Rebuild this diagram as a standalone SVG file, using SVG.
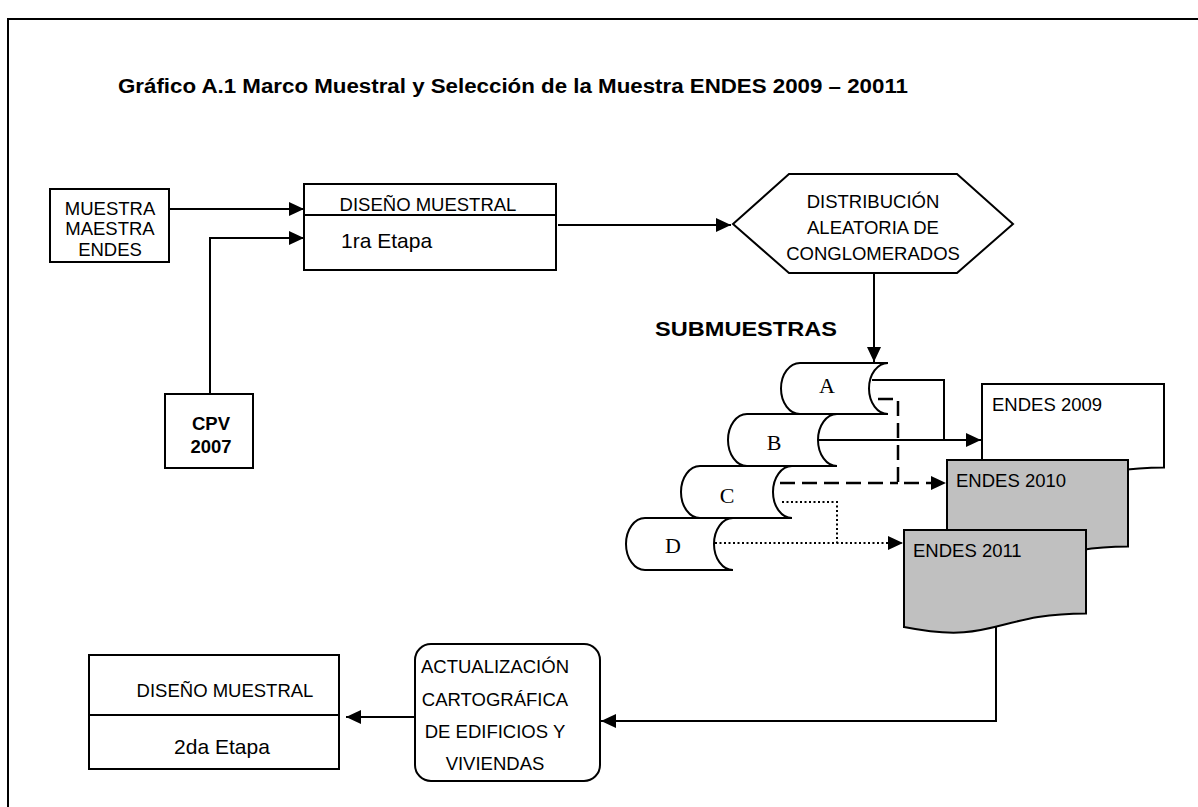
<svg xmlns="http://www.w3.org/2000/svg" width="1198" height="807" viewBox="0 0 1198 807">
<style>
.sh{fill:#fff;stroke:#000;stroke-width:2}
.gr{fill:#c0c0c0;stroke:#000;stroke-width:2}
.t{font-family:"Liberation Sans",Arial,sans-serif;font-size:18.5px;fill:#000}
.big{font-size:21px}
.c{text-anchor:middle}
.b{font-weight:bold}
.ser{font-family:"Liberation Serif","Times New Roman",serif;font-size:22px;text-anchor:middle;fill:#000}
.ln{fill:none;stroke:#000;stroke-width:2}
.da{stroke-dasharray:15 7;stroke-width:2.5}
.do{stroke-dasharray:2 2.5}
</style>
<defs>
<marker id="ah" markerUnits="userSpaceOnUse" markerWidth="16" markerHeight="14" refX="15" refY="7" orient="auto">
<path d="M0,0 L15,7 L0,14 Z" fill="#000"/>
</marker>
</defs>
<rect x="8" y="19" width="1210" height="810" fill="#fff" stroke="#000" stroke-width="2"/>
<text class="t b" x="118" y="93" style="font-size:20px" textLength="790" lengthAdjust="spacingAndGlyphs">Gráfico A.1 Marco Muestral y Selección de la Muestra ENDES 2009 – 20011</text>

<g id="muestra">
<rect class="sh" x="50" y="189" width="119" height="73"/>
<text class="t c" x="110" y="215">MUESTRA</text>
<text class="t c" x="110" y="235">MAESTRA</text>
<text class="t c" x="110" y="256">ENDES</text>
</g>
<g id="cpv">
<rect class="sh" x="165" y="394" width="88" height="74"/>
<text class="t c b" x="211" y="430">CPV</text>
<text class="t c b" x="211" y="453">2007</text>
</g>
<g id="diseno1">
<rect class="sh" x="304" y="184" width="252" height="86"/>
<line x1="304" y1="215" x2="556" y2="215" stroke="#000" stroke-width="2"/>
<text class="t c" x="428" y="211">DISEÑO MUESTRAL</text>
<text class="t big" x="341" y="248">1ra Etapa</text>
</g>
<g id="distribucion">
<path class="sh" d="M733,224 L789,174 L957,174 L1013,224 L957,273 L789,273 Z"/>
<text class="t c" x="873" y="208">DISTRIBUCIÓN</text>
<text class="t c" x="873" y="234">ALEATORIA DE</text>
<text class="t c" x="873" y="260">CONGLOMERADOS</text>
</g>
<text id="submuestras" class="t b" x="655" y="336" style="font-size:21px" textLength="182" lengthAdjust="spacingAndGlyphs">SUBMUESTRAS</text>

<g id="subD">
<path class="sh" d="M733,518 L645,518 A19,26 0 0 0 645,570 L733,570 A19,26 0 0 1 733,518 Z"/>
<text class="ser" x="673" y="553">D</text>
</g>
<g id="subC">
<path class="sh" d="M792,466 L700,466 A19,26 0 0 0 700,518 L792,518 A19,26 0 0 1 792,466 Z"/>
<text class="ser" x="727" y="503">C</text>
</g>
<g id="subB">
<path class="sh" d="M837,414 L747,414 A19,26 0 0 0 747,466 L837,466 A19,26 0 0 1 837,414 Z"/>
<text class="ser" x="774" y="450">B</text>
</g>
<g id="subA">
<path class="sh" d="M888,363 L800,363 A19,25.5 0 0 0 800,414 L888,414 A19,25.5 0 0 1 888,363 Z"/>
<text class="ser" x="827" y="393">A</text>
</g>

<g id="endes2009">
<path class="sh" d="M982,384 H1164 V467.4 C1073,467.4 1073,499.1 982,481.1 Z"/>
<text class="t" x="992" y="411">ENDES 2009</text>
</g>
<g id="endes2010">
<path class="gr" d="M947,460 H1128 V546.6 C1037.5,546.6 1037.5,579.6 947,560.9 Z"/>
<text class="t" x="956" y="487">ENDES 2010</text>
</g>
<g id="endes2011">
<path class="gr" d="M904,530 H1086 V613.4 C995,613.4 995,645.2 904,627.1 Z"/>
<text class="t" x="913" y="557">ENDES 2011</text>
</g>

<g id="actualizacion">
<rect class="sh" x="415" y="644" width="185" height="137" rx="16" ry="16"/>
<text class="t c" x="495" y="673">ACTUALIZACIÓN</text>
<text class="t c" x="495" y="706">CARTOGRÁFICA</text>
<text class="t c" x="495" y="738">DE EDIFICIOS Y</text>
<text class="t c" x="495" y="770">VIVIENDAS</text>
</g>
<g id="diseno2">
<rect class="sh" x="89" y="655" width="250" height="114"/>
<line x1="89" y1="715" x2="339" y2="715" stroke="#000" stroke-width="2"/>
<text class="t c" x="225" y="697">DISEÑO MUESTRAL</text>
<text class="t c big" x="222" y="754">2da Etapa</text>
</g>

<g id="connectors">
<path class="ln" d="M170,209 H304" marker-end="url(#ah)"/>
<path class="ln" d="M210,394 V238 H304" marker-end="url(#ah)"/>
<path class="ln" d="M558,225 H731" marker-end="url(#ah)"/>
<path class="ln" d="M874,273 V362" marker-end="url(#ah)"/>
<path class="ln" d="M872,380 H944 V440"/>
<path class="ln" d="M818,440 H981" marker-end="url(#ah)"/>
<path class="ln da" d="M878,399 H898 V483 H946" marker-end="url(#ah)"/>
<path class="ln da" d="M780,483 H898"/>
<path class="ln do" d="M782,502 H837 V543"/>
<path class="ln do" d="M715,543 H903" marker-end="url(#ah)"/>
<path class="ln" d="M996,626 V721 H601" marker-end="url(#ah)"/>
<path class="ln" d="M415,717 H346" marker-end="url(#ah)"/>
</g>
</svg>
